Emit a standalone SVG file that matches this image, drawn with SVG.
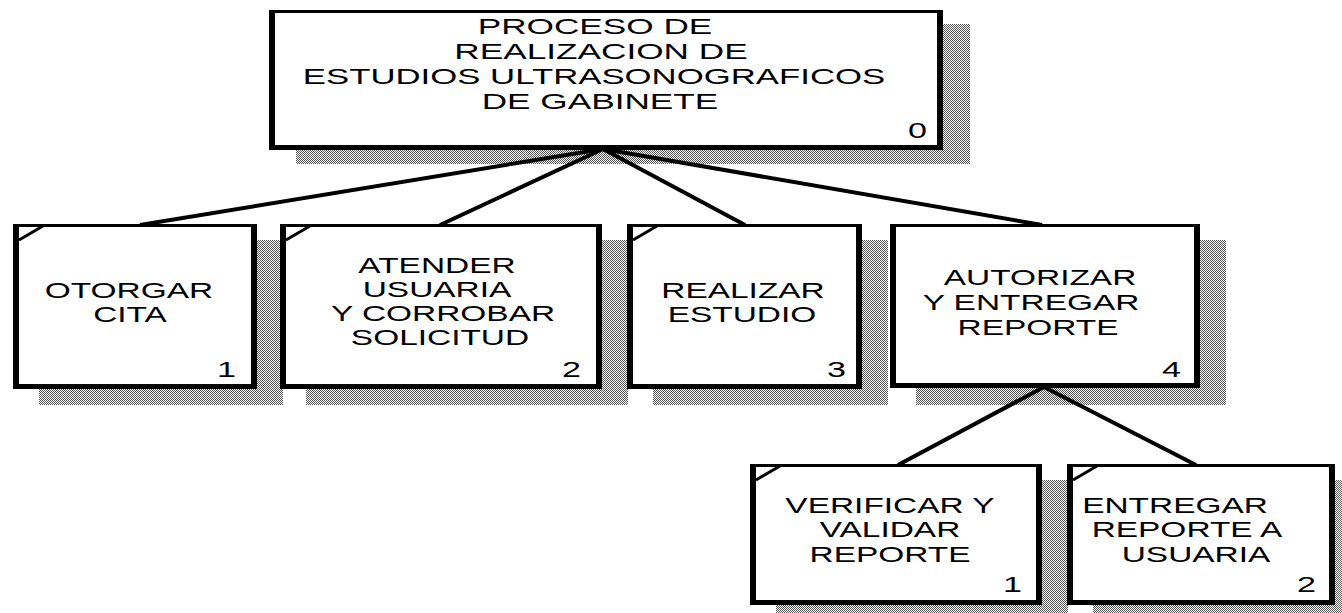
<svg xmlns="http://www.w3.org/2000/svg" width="1342" height="613" viewBox="0 0 1342 613">
<defs>
<pattern id="sh" width="2" height="2" patternUnits="userSpaceOnUse">
<rect width="2" height="2" fill="#fff"/>
<rect x="0" y="0" width="1" height="1" fill="#555"/>
<rect x="1" y="1" width="1" height="1" fill="#555"/>
</pattern>
</defs>
<style>
.shadow{fill:url(#sh)}
.outer{fill:#000}
.inner{fill:#fff}
.t{font-family:"Liberation Sans",Arial,sans-serif;font-size:22px;fill:#000;text-anchor:middle}
.n{font-family:"Liberation Sans",Arial,sans-serif;font-size:22px;fill:#000;text-anchor:end}
.corner{stroke:#000;stroke-width:3;fill:none}
.conn{stroke:#000;stroke-width:4;fill:none}
</style>
<rect width="1342" height="613" fill="#fff"/>
<g id="shadows">
<rect class="shadow" x="296" y="24" width="674" height="140"/>
<rect class="shadow" x="39" y="240" width="244" height="165"/>
<rect class="shadow" x="306" y="240" width="322" height="165"/>
<rect class="shadow" x="653" y="240" width="235" height="165"/>
<rect class="shadow" x="916" y="240" width="310" height="165"/>
<rect class="shadow" x="776" y="480" width="292" height="141"/>
<rect class="shadow" x="1093" y="480" width="268" height="141"/>
</g>
<g id="connectors">
<line class="conn" x1="603" y1="149" x2="140" y2="225"/>
<line class="conn" x1="603" y1="149" x2="440" y2="225"/>
<line class="conn" x1="603" y1="149" x2="745" y2="225"/>
<line class="conn" x1="603" y1="149" x2="1042" y2="225"/>
<line class="conn" x1="1044" y1="387" x2="898" y2="465"/>
<line class="conn" x1="1044" y1="387" x2="1196" y2="465"/>
</g>
<g id="node0">
<rect class="outer" x="269" y="10" width="674" height="140"/>
<rect class="inner" x="275" y="13" width="662" height="132"/>
<text class="t" transform="translate(595,34) scale(1.6,1)">PROCESO DE</text>
<text class="t" transform="translate(601,59) scale(1.6,1)">REALIZACION DE</text>
<text class="t" transform="translate(594,84) scale(1.58,1)">ESTUDIOS ULTRASONOGRAFICOS</text>
<text class="t" transform="translate(600,109) scale(1.6,1)">DE GABINETE</text>
<text class="n" transform="translate(927,138) scale(1.55,1)">0</text>
</g>
<g id="node1">
<rect class="outer" x="13" y="224" width="244" height="165"/>
<rect class="inner" x="19" y="227" width="232" height="157"/>
<line class="corner" x1="19" y1="240" x2="43" y2="226"/>
<text class="t" transform="translate(129,298) scale(1.52,1)">OTORGAR</text>
<text class="t" transform="translate(130,322) scale(1.52,1)">CITA</text>
<text class="n" transform="translate(236,377) scale(1.55,1)">1</text>
</g>
<g id="node2">
<rect class="outer" x="280" y="224" width="322" height="165"/>
<rect class="inner" x="286" y="227" width="310" height="157"/>
<line class="corner" x1="286" y1="240" x2="310" y2="226"/>
<text class="t" transform="translate(437,273) scale(1.52,1)">ATENDER</text>
<text class="t" transform="translate(437,297) scale(1.52,1)">USUARIA</text>
<text class="t" transform="translate(443,321) scale(1.52,1)">Y CORROBAR</text>
<text class="t" transform="translate(440,345) scale(1.52,1)">SOLICITUD</text>
<text class="n" transform="translate(581,377) scale(1.55,1)">2</text>
</g>
<g id="node3">
<rect class="outer" x="627" y="224" width="235" height="165"/>
<rect class="inner" x="633" y="227" width="223" height="157"/>
<line class="corner" x1="633" y1="240" x2="657" y2="226"/>
<text class="t" transform="translate(743,298) scale(1.52,1)">REALIZAR</text>
<text class="t" transform="translate(742,322) scale(1.52,1)">ESTUDIO</text>
<text class="n" transform="translate(846,377) scale(1.55,1)">3</text>
</g>
<g id="node4">
<rect class="outer" x="890" y="224" width="310" height="164"/>
<rect class="inner" x="896" y="227" width="298" height="156"/>
<text class="t" transform="translate(1040,285) scale(1.52,1)">AUTORIZAR</text>
<text class="t" transform="translate(1031,310) scale(1.52,1)">Y ENTREGAR</text>
<text class="t" transform="translate(1038,335) scale(1.52,1)">REPORTE</text>
<text class="n" transform="translate(1181,377) scale(1.55,1)">4</text>
</g>
<g id="node4-1">
<rect class="outer" x="750" y="464" width="292" height="141"/>
<rect class="inner" x="756" y="467" width="280" height="133"/>
<line class="corner" x1="756" y1="480" x2="780" y2="466"/>
<text class="t" transform="translate(890,513) scale(1.52,1)">VERIFICAR Y</text>
<text class="t" transform="translate(890,537) scale(1.52,1)">VALIDAR</text>
<text class="t" transform="translate(890,562) scale(1.52,1)">REPORTE</text>
<text class="n" transform="translate(1022,592) scale(1.55,1)">1</text>
</g>
<g id="node4-2">
<rect class="outer" x="1067" y="464" width="268" height="141"/>
<rect class="inner" x="1073" y="467" width="256" height="133"/>
<line class="corner" x1="1073" y1="480" x2="1097" y2="466"/>
<text class="t" transform="translate(1175,513) scale(1.52,1)">ENTREGAR</text>
<text class="t" transform="translate(1187,537) scale(1.52,1)">REPORTE A</text>
<text class="t" transform="translate(1196,562) scale(1.52,1)">USUARIA</text>
<text class="n" transform="translate(1316,592) scale(1.55,1)">2</text>
</g>
</svg>
